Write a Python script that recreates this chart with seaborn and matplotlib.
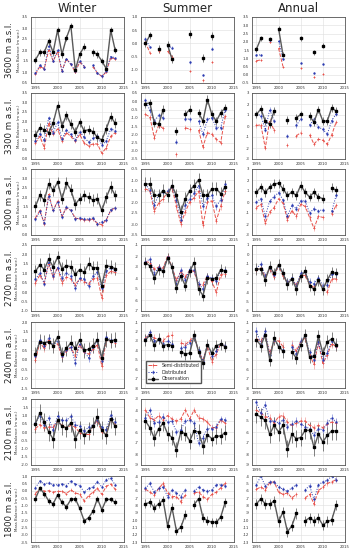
import numpy as np
import matplotlib
matplotlib.use("Agg")
import matplotlib.pyplot as plt
import seaborn as sns

N = np.nan
years = list(range(1995, 2014))
seasons = ["Winter", "Summer", "Annual"]
elevations = [3600, 3300, 3000, 2700, 2400, 2100, 1800]

# --- Winter balance (m w.e.), 1995-2013 ---
w3600_obs = [1.55, 1.9, 1.9, 2.4, 1.9, 2.9, 1.8, 2.55, 3.1, 1.1, 1.8, 2.15, N, 1.9, 1.8, 1.5, 1.15, 2.9, 2.0]
w3600_dist = [0.95, 1.3, 1.15, 2.2, 1.5, 2.0, 1.05, 1.6, 1.35, 1.05, 1.5, 1.25, N, 1.3, 0.95, 0.8, 1.05, 1.7, 1.65]
w3600_semi = [0.9, 1.25, 1.15, 2.0, 1.5, 1.9, 1.05, 1.6, 1.35, 1.0, 1.45, 1.25, N, 1.25, 0.95, 0.8, 1.0, 1.65, 1.6]
w3300_obs = [1.27, 1.66, 1.55, 1.4, 1.9, 2.83, 1.75, 2.32, 1.85, 1.45, 1.95, 1.5, 1.55, 1.45, 1.15, 1.0, 1.6, 2.25, 1.9]
w3300_dist = [0.95, 1.35, 1.0, 2.2, 1.4, 1.95, 1.05, 1.55, 1.3, 1.0, 1.45, 1.15, 0.9, 1.1, 1.2, 0.75, 0.95, 1.6, 1.5]
w3300_semi = [0.85, 1.2, 0.6, 1.9, 1.3, 1.6, 0.95, 1.4, 1.2, 0.95, 1.3, 0.85, 0.7, 0.8, 0.8, 0.3, 0.6, 1.2, 1.4]
w3000_obs = [1.52, 2.1, 1.85, 2.72, 2.36, 2.8, 1.92, 2.75, 2.4, 1.63, 1.92, 2.1, 2.0, 1.85, 1.92, 1.3, 2.0, 2.55, 2.1]
w3000_dist = [0.85, 1.25, 0.65, 2.05, 1.3, 1.75, 0.95, 1.5, 1.3, 0.85, 0.9, 0.85, 0.85, 0.9, 0.6, 0.7, 0.8, 1.35, 1.45]
w3000_semi = [0.9, 1.3, 0.6, 2.15, 1.3, 1.8, 1.0, 1.45, 1.3, 0.9, 0.85, 0.8, 0.8, 0.85, 0.6, 0.55, 0.8, 1.3, 1.45]
w2700_obs = [1.1, 1.45, 1.2, 1.75, 1.35, 1.85, 1.25, 1.4, 1.35, 0.95, 1.2, 1.05, 1.5, 1.3, 1.3, 0.35, 1.4, 1.35, 1.25]
w2700_dist = [0.7, 1.0, 0.45, 1.6, 0.85, 1.3, 0.75, 1.0, 0.85, 0.2, 0.75, 0.7, 0.3, 0.85, 1.05, 0.2, 1.1, 1.3, 1.2]
w2700_semi = [0.5, 0.9, 0.5, 1.5, 0.8, 1.3, 0.5, 0.8, 0.7, 0.4, 0.7, 0.55, 0.45, 0.7, 0.75, -0.3, 0.9, 1.1, 1.05]
w2400_obs = [0.3, 0.95, 0.9, 0.95, 0.75, 1.2, 0.3, 0.6, 0.9, 0.6, 1.05, 0.5, 0.55, 0.75, 1.05, 0.1, 1.1, 1.0, 1.05]
w2400_dist = [0.2, 1.05, 0.75, 1.15, 0.75, 1.0, 0.2, 0.5, 0.7, -0.15, 0.85, 0.45, 0.1, 0.65, 1.0, -0.05, 1.2, 1.05, 1.0]
w2400_semi = [0.0, 0.9, 0.6, 1.05, 0.7, 0.85, 0.15, 0.45, 0.65, 0.2, 0.8, 0.4, 0.3, 0.55, 0.8, -0.35, 1.05, 0.95, 0.9]
w2100_obs = [0.5, 1.15, 0.6, 0.0, -0.42, 0.7, 0.35, 0.25, 0.55, -0.4, 0.1, -0.2, 0.05, 0.35, 0.9, 0.1, -0.2, 0.8, 0.35]
w2100_dist = [0.55, 1.0, 0.45, 0.85, 0.1, 0.95, 0.7, 0.7, 0.95, 0.45, 0.35, 0.05, 0.3, 0.4, 0.7, 0.3, 0.1, 1.05, 0.6]
w2100_semi = [0.2, 0.45, 0.25, 0.3, 0.3, 0.65, 0.4, 0.25, 0.4, 0.3, -0.05, -0.15, -0.15, 0.35, 0.7, 0.0, -0.15, 0.75, 0.45]
w1800_obs = [-0.55, 0.15, -0.2, -0.7, -0.9, -0.3, -0.8, -1.1, -0.6, -0.55, -1.2, -2.05, -1.85, -1.4, -0.55, -1.3, -0.6, -0.6, -0.8]
w1800_dist = [0.2, 0.65, 0.45, 0.55, 0.4, 0.4, 0.45, 0.35, 0.65, 0.45, 0.35, -0.1, 0.15, 0.25, 0.6, 0.25, 0.75, 0.85, 0.4]
w1800_semi = [-0.2, 0.15, -0.05, 0.0, -0.1, -0.05, -0.05, -0.2, 0.05, -0.15, -0.25, -0.7, -0.35, -0.1, 0.15, -0.25, 0.3, 0.45, 0.1]

# --- Summer balance ---
s3600_obs = [0.0, 0.3, N, -0.22, N, -0.05, -0.6, N, N, N, 0.35, N, N, -0.55, N, 0.27, N, N, N]
s3600_dist = [0.18, -0.14, N, -0.2, N, -0.1, -0.16, N, N, N, -0.72, N, N, -1.2, N, -0.2, N, N, N]
s3600_semi = [0.05, -0.35, N, -0.3, N, -0.3, -0.5, N, N, N, -1.05, N, N, -1.4, N, -0.7, N, N, N]
s3300_obs = [-0.15, -0.1, -1.3, -1.4, -0.5, N, N, -1.8, N, -0.8, -0.5, N, -0.7, -1.2, 0.1, -0.8, -1.2, -0.7, -0.4]
s3300_dist = [0.05, -0.55, -1.2, -0.85, -1.0, N, N, -2.45, N, -1.05, -1.1, N, -1.2, -2.0, -1.1, -1.0, -1.6, -1.6, -0.5]
s3300_semi = [-0.8, -0.95, -2.2, -1.45, -1.65, N, N, -3.2, N, -1.6, -1.7, N, -1.75, -2.75, -1.9, -2.0, -2.3, -2.5, -0.9]
s3000_obs = [-1.18, -1.18, -1.7, -1.7, -1.48, -1.7, -1.25, -1.7, -2.45, -1.85, -1.48, -1.25, -1.0, -1.7, -1.7, -1.4, -1.4, -1.62, -1.32]
s3000_dist = [-1.2, -1.45, -2.15, -1.65, -1.55, -1.5, -1.3, -1.9, -2.8, -2.15, -1.85, -1.6, -1.25, -2.2, -1.8, -1.7, -2.2, -1.9, -1.2]
s3000_semi = [-1.4, -1.5, -2.4, -2.05, -1.85, -1.55, -1.35, -2.2, -3.0, -2.45, -2.0, -1.8, -1.5, -3.05, -2.0, -1.95, -2.85, -2.2, -1.5]
s2700_obs = [-2.6, -2.9, -4.0, -3.2, -3.4, -2.2, -3.0, -4.9, -3.8, -4.7, -3.4, -2.6, -5.0, -5.6, -4.0, -4.1, -4.0, -3.25, -3.4]
s2700_dist = [-2.5, -2.3, -3.6, -3.0, -3.3, -2.1, -3.0, -4.5, -3.3, -4.2, -3.2, -3.3, -4.5, -5.0, -3.8, -4.0, -4.3, -3.3, -3.3]
s2700_semi = [-2.5, -2.6, -3.2, -3.0, -3.1, -2.0, -3.0, -4.2, -3.4, -3.9, -3.3, -3.4, -4.6, -4.6, -3.8, -4.3, -5.3, -3.7, -3.6]
s2400_obs = [-2.9, -2.4, -3.45, -2.75, -3.5, -3.4, -3.5, N, -4.15, -4.4, -4.3, -2.4, -4.15, -5.4, -3.4, -4.3, -3.5, -3.35, -3.6]
s2400_dist = [-2.8, -2.1, -3.0, -2.9, -3.3, -3.0, -3.3, N, -3.8, -3.6, -3.2, -2.6, -4.0, -5.1, -3.4, -4.6, -4.1, -3.3, -3.5]
s2400_semi = [-2.7, -2.3, -2.7, -2.8, -3.0, -2.5, -2.4, N, -3.2, -3.4, -3.0, -2.5, -4.1, -5.0, -3.6, -5.2, -4.4, -3.3, -3.6]
s2100_obs = [-5.0, -5.6, -6.55, -5.7, -5.2, -6.15, -6.5, -7.6, -6.0, -6.15, -6.8, -5.9, -6.0, -7.3, -6.25, -6.6, -6.4, -6.35, -6.05]
s2100_dist = [-4.7, -4.0, -5.2, -5.1, -4.6, -5.1, -5.0, -6.0, -5.8, -5.0, -4.9, -5.2, -7.0, -6.5, -5.7, -5.7, -5.5, -4.8, -4.9]
s2100_semi = [-4.0, -4.7, -4.9, -4.5, -4.9, -4.5, -4.8, -5.0, -4.8, -4.0, -4.8, -4.0, -4.7, -4.8, -5.1, -5.6, -5.6, -4.9, -5.2]
s1800_obs = [-7.8, -7.6, -8.3, -7.8, -7.3, -10.8, -8.3, -11.5, -11.0, -9.3, N, -7.9, -7.1, -9.7, -10.1, -10.3, -10.3, -9.6, -7.6]
s1800_dist = [-5.7, -5.0, -6.2, -5.7, -5.5, -6.8, -5.9, -6.3, -6.8, -5.9, N, -6.1, -5.5, -5.9, -6.1, -5.9, -5.2, -5.2, -5.3]
s1800_semi = [-5.8, -6.2, -6.6, -5.7, -5.0, -6.3, -6.8, -6.8, -7.5, -6.6, N, -6.3, -6.2, -6.8, -7.2, -6.5, -6.2, -5.6, -5.0]

# --- Annual balance ---
a3600_obs = [1.55, 2.2, N, 2.15, N, 2.8, 1.2, N, N, N, 2.2, N, N, 1.35, N, 1.75, N, N, N]
a3600_dist = [1.2, 1.2, N, 2.1, N, 2.05, 0.95, N, N, N, 0.7, N, N, 0.1, N, 0.65, N, N, N]
a3600_semi = [0.85, 0.9, N, 2.0, N, 1.6, 0.5, N, N, N, 0.4, N, N, -0.15, N, 0.05, N, N, N]
a3300_obs = [1.05, 1.55, 0.45, 0.15, 1.35, N, N, 0.55, N, 0.75, 1.05, N, 0.9, 0.35, 1.5, 0.45, 0.45, 1.65, 1.35]
a3300_dist = [1.1, 0.95, -0.35, 1.5, 0.45, N, N, -0.9, N, 0.05, 0.65, N, 0.1, 0.6, -0.1, -0.3, -0.75, 0.5, 1.1]
a3300_semi = [0.05, 0.1, -2.0, 0.5, -0.4, N, N, -1.7, N, -0.9, -0.6, N, -0.8, -1.65, -1.2, -1.3, -1.65, -0.8, 0.35]
a3000_obs = [0.9, 1.35, 0.9, 1.35, 1.65, 1.7, 1.2, 0.6, 0.9, 0.6, 1.5, 0.9, 0.45, 0.9, 0.45, 0.3, N, 1.3, 1.05]
a3000_dist = [0.0, 0.3, -1.3, 0.1, 0.5, 0.85, 0.2, -1.3, -0.3, -0.6, 0.1, 0.1, -1.0, -0.6, -0.8, -0.7, N, -0.85, 0.6]
a3000_semi = [-0.5, -0.2, -1.9, -0.9, -0.5, 0.3, -0.1, -1.6, -0.8, -1.3, -0.2, -0.4, -1.4, -2.4, -1.3, -1.4, N, -1.1, -0.3]
a2700_obs = [-1.55, -1.55, -2.7, -1.3, -2.0, -1.1, -2.0, -3.15, -2.6, -3.65, -2.3, -1.8, -3.3, -3.7, -2.75, -3.7, -2.7, -1.9, -2.0]
a2700_dist = [-1.5, -1.0, -2.3, -1.4, -2.2, -1.2, -2.0, -2.9, -2.5, -3.3, -2.0, -1.9, -2.9, -3.1, -2.5, -3.3, -3.2, -2.1, -2.1]
a2700_semi = [-1.7, -1.4, -2.4, -1.5, -2.4, -1.1, -2.3, -3.0, -2.6, -3.3, -2.3, -2.2, -3.2, -3.5, -2.8, -3.6, -4.0, -2.6, -2.6]
a2400_obs = [-2.9, -3.5, -2.35, -5.0, -2.7, -3.6, -4.1, N, -4.2, -4.8, -3.4, -2.4, -4.7, -4.6, -2.5, -4.3, -3.1, -2.8, -3.4]
a2400_dist = [-2.0, -3.3, -2.0, -4.5, -2.9, -3.6, -4.0, N, -3.6, -4.4, -3.0, -2.5, -4.2, -5.0, -3.1, -5.0, -4.3, -3.0, -3.5]
a2400_semi = [-2.8, -3.0, -2.4, -4.3, -3.0, -3.0, -3.6, N, -3.4, -4.1, -3.1, -2.7, -4.5, -5.5, -3.2, -5.4, -4.5, -3.3, -3.6]
a2100_obs = [-4.4, -4.65, -4.95, -6.2, -5.4, -6.0, -5.4, -7.5, -6.2, -6.6, -6.5, -5.85, -5.85, -7.4, -6.2, -6.9, -6.3, -5.9, -5.9]
a2100_dist = [-3.3, -4.3, -3.5, -5.0, -5.0, -5.2, -4.9, -5.5, -5.3, -5.0, -5.3, -5.5, -5.7, -6.3, -5.7, -5.8, -5.2, -4.7, -5.1]
a2100_semi = [-4.0, -4.3, -4.6, -4.7, -5.2, -4.6, -4.5, -5.1, -5.4, -5.2, -5.0, -5.0, -5.4, -5.6, -5.4, -5.6, -5.3, -5.1, -5.2]
a1800_obs = [-7.8, -7.1, -7.8, -7.8, -7.4, -10.2, -8.9, -11.6, -10.8, -9.1, N, -10.1, -9.7, -10.1, -9.7, -10.7, -10.2, -10.0, -8.0]
a1800_dist = [-5.2, -4.0, -5.4, -4.8, -4.8, -5.5, -5.8, -6.1, -5.6, -5.2, N, -5.9, -5.3, -7.2, -5.2, -4.8, -4.6, -4.0, -4.5]
a1800_semi = [-5.8, -5.5, -5.9, -4.9, -4.8, -6.2, -6.5, -6.3, -7.0, -6.5, N, -7.0, -6.5, -7.8, -6.0, -5.5, -5.0, -4.8, -4.5]

# typical uncertainty per panel (same order as elevations)
obs_err = {"Winter": [0.15, 0.25, 0.3, 0.35, 0.4, 0.55, 0.2],
           "Summer": [0.15, 0.25, 0.3, 0.5, 0.6, 0.7, 0.6],
           "Annual": [0.15, 0.35, 0.4, 0.6, 0.7, 0.8, 0.7]}
mod_err = {"Winter": [0.05, 0.1, 0.1, 0.15, 0.2, 0.2, 0.1],
           "Summer": [0.05, 0.15, 0.15, 0.3, 0.4, 0.3, 0.3],
           "Annual": [0.05, 0.2, 0.2, 0.35, 0.45, 0.35, 0.3]}

g = globals()
prefix = {"Winter": "w", "Summer": "s", "Annual": "a"}

# axis ranges (ymin, ymax, step)
yaxis = {
    "Winter": [(0.5, 3.5, 0.5), (0, 3.5, 0.5), (0, 3.5, 0.5), (-1, 2.5, 0.5), (-1.5, 2.0, 0.5), (-2, 2, 0.5), (-3.5, 1.0, 0.5)],
    "Summer": [(-1.5, 1.0, 0.5), (-3.5, 0.5, 0.5), (-3.5, -0.5, 0.5), (-7, -1, 1), (-8, -1, 1), (-9, -3, 1), (-13, -4, 1)],
    "Annual": [(-0.5, 3.5, 0.5), (-3, 3, 1), (-3, 3, 1), (-6, 1, 1), (-8, -1, 1), (-9, -3, 1), (-13, -4, 1)],
}

sns.set_style("whitegrid")
plt.rcParams["font.family"] = ["DejaVu Sans"]

W, H = 353, 550
fig = plt.figure(figsize=(W / 100, H / 100), dpi=100)

col_left = [31, 141, 252]
col_w = 93
row_top = [17, 93, 169, 245, 322, 399, 476]
row_h = 66

red = "#e8524b"
blue = "#2b3bb0"

for r, elev in enumerate(elevations):
    for c, season in enumerate(seasons):
        ax = fig.add_axes([col_left[c] / W, 1 - (row_top[r] + row_h) / H, col_w / W, row_h / H])
        key = prefix[season] + str(elev)
        obs = np.array(g[key + "_obs"], dtype=float)
        dist = np.array(g[key + "_dist"], dtype=float)
        semi = np.array(g[key + "_semi"], dtype=float)
        eo = obs_err[season][r]
        em = mod_err[season][r]

        h_semi = ax.errorbar(years, semi, yerr=em, fmt="+", ls="--", color=red, ms=2.0, mew=0.6,
                             lw=0.7, elinewidth=0.5, ecolor="#f2a09c", capsize=0, label="Semi-distributed")
        h_dist = ax.errorbar(years, dist, yerr=em, fmt="o", ls=":", color=blue, ms=1.7, mew=0,
                             lw=0.7, elinewidth=0.5, ecolor="#7f8ad6", capsize=0, label="Distributed")
        h_obs = ax.errorbar(years, obs, yerr=eo, fmt="s", ls="-", color="#5a5a5a", mfc="black",
                            mec="black", ms=1.9, lw=1.0, elinewidth=0.6, ecolor="#6a6a6a",
                            capsize=0, label="Observation")

        ymin, ymax, step = yaxis[season][r]
        ax.set_ylim(ymin, ymax)
        ax.set_yticks(np.arange(ymin, ymax + step / 2, step))
        if step < 1:
            ax.yaxis.set_major_formatter(matplotlib.ticker.FormatStrFormatter("%.1f"))
        else:
            ax.yaxis.set_major_formatter(matplotlib.ticker.FormatStrFormatter("%d"))
        ax.set_xlim(1994, 2015)
        ax.set_xticks([1995, 2000, 2005, 2010, 2015])
        ax.tick_params(labelsize=2.8, length=1.2, width=0.4, pad=0.8, colors="#333333")
        ax.grid(True, color="#dedede", lw=0.4)
        for sp in ax.spines.values():
            sp.set_color("#555555")
            sp.set_linewidth(0.6)
        if c == 0:
            ax.set_ylabel("Mass Balance (m w.e.)", fontsize=2.8, labelpad=1, color="#333333")
        if season == "Summer" and elev == 2400:
            ax.legend(handles=[h_semi, h_dist, h_obs], loc="lower left", bbox_to_anchor=(0.03, 0.04),
                      fontsize=3.3, frameon=True, framealpha=1, edgecolor="#555555",
                      handlelength=2.2, borderpad=0.4, labelspacing=0.35, fancybox=False)

    fig.text(10 / W, 1 - (row_top[r] + row_h / 2) / H, f"{elev} m a.s.l.", rotation=90,
             fontsize=6.2, ha="center", va="center", color="#222222")

for c, season in enumerate(seasons):
    fig.text((col_left[c] + col_w / 2) / W, 1 - 8 / H, season, fontsize=8.5, ha="center", va="center",
             color="#222222")

fig.savefig("out.png", dpi=100)
